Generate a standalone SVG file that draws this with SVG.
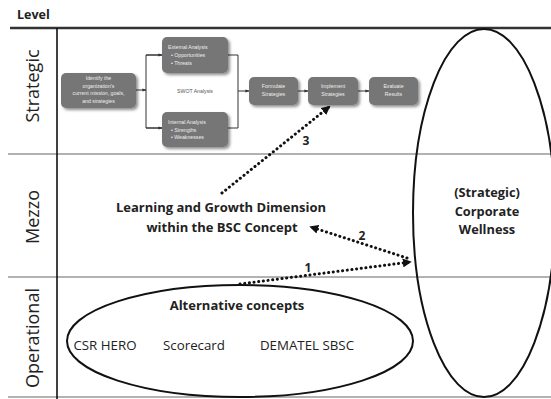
<svg xmlns="http://www.w3.org/2000/svg" width="551" height="399" viewBox="0 0 551 399">
<defs>
<style>
.lbl{font-family:"Open Sans","Liberation Sans",sans-serif;fill:#222}
.row{font-size:18px}
.b{font-weight:bold}
.box{fill:#767676;filter:url(#sh)}
.bt{font-family:"Liberation Sans",sans-serif;font-size:5.2px;fill:#eeeeee;text-anchor:middle}
.bl{font-family:"Liberation Sans",sans-serif;font-size:5.2px;fill:#eeeeee}
.fl{fill:none;stroke:#333;stroke-width:1}
.grid{stroke:#666;stroke-width:1.2}
.dot{fill:none;stroke:#111;stroke-width:3;stroke-dasharray:0.1 4.6;stroke-linecap:round}
</style>
<filter id="sh" x="-20%" y="-20%" width="150%" height="160%">
<feGaussianBlur in="SourceAlpha" stdDeviation="1.5"/>
<feOffset dx="1.5" dy="2" result="o"/>
<feComponentTransfer><feFuncA type="linear" slope="0.45"/></feComponentTransfer>
<feMerge><feMergeNode/><feMergeNode in="SourceGraphic"/></feMerge>
</filter>
<marker id="ah" viewBox="0 0 10 10" refX="8" refY="5" markerWidth="9" markerHeight="9" markerUnits="userSpaceOnUse" orient="auto">
<path d="M0,0 L10,5 L0,10 z" fill="#111"/>
</marker>
<marker id="sa" viewBox="0 0 10 10" refX="9" refY="5" markerWidth="4" markerHeight="4" markerUnits="userSpaceOnUse" orient="auto">
<path d="M0,1 L10,5 L0,9 z" fill="#333"/>
</marker>
</defs>
<rect width="551" height="399" fill="#fff"/>

<g id="grid">
<text class="lbl b" x="17" y="19" font-size="12.5">Level</text>
<line x1="10" y1="28" x2="551" y2="28" stroke="#333" stroke-width="2.5"/>
<line class="grid" x1="8" y1="154" x2="551" y2="154"/>
<line class="grid" x1="8" y1="277" x2="551" y2="277"/>
<line class="grid" x1="8" y1="397" x2="551" y2="397"/>
<line x1="57" y1="28" x2="57" y2="399" stroke="#111" stroke-width="1.6"/>
<text class="lbl row" transform="translate(39,86) rotate(-90)" text-anchor="middle">Strategic</text>
<text class="lbl row" transform="translate(39,217) rotate(-90)" text-anchor="middle">Mezzo</text>
<text class="lbl row" transform="translate(39,338) rotate(-90)" text-anchor="middle">Operational</text>
</g>

<g id="flow-connectors">
<line class="fl" x1="136" y1="90" x2="146" y2="90" marker-end="url(#sa)"/>
<polyline class="fl" points="162,55 146,55 146,128 162,128"/>
<line class="fl" x1="146" y1="55" x2="162" y2="55" marker-end="url(#sa)"/>
<line class="fl" x1="146" y1="128" x2="162" y2="128" marker-end="url(#sa)"/>
<polyline class="fl" points="228,55 238,55 238,128 228,128"/>
<line class="fl" x1="238" y1="91" x2="249" y2="91" marker-end="url(#sa)"/>
<line class="fl" x1="298" y1="91" x2="308" y2="91" marker-end="url(#sa)"/>
<line class="fl" x1="358" y1="91" x2="369" y2="91" marker-end="url(#sa)"/>
</g>

<g id="identify">
<rect class="box" x="61" y="73" width="75" height="35" rx="5"/>
<text class="bt" x="98.5" y="80">Identify the</text>
<text class="bt" x="98.5" y="87.5">organization's</text>
<text class="bt" x="98.5" y="95">current mission, goals,</text>
<text class="bt" x="98.5" y="102.5">and strategies</text>
</g>
<g id="external">
<rect class="box" x="162" y="37" width="66" height="36" rx="5"/>
<text class="bl" x="168" y="49">External Analysis</text>
<text class="bl" x="171" y="57">• Opportunities</text>
<text class="bl" x="171" y="64.5">• Threats</text>
</g>
<g id="swot">
<text x="195" y="93" font-family="Liberation Sans,sans-serif" font-size="5.2" fill="#555" text-anchor="middle">SWOT Analysis</text>
</g>
<g id="internal">
<rect class="box" x="162" y="112" width="66" height="35" rx="5"/>
<text class="bl" x="168" y="124">Internal Analysis</text>
<text class="bl" x="171" y="131.5">• Strengths</text>
<text class="bl" x="171" y="139">• Weaknesses</text>
</g>
<g id="formulate">
<rect class="box" x="249" y="77" width="49" height="28" rx="5"/>
<text class="bt" x="273.5" y="88">Formulate</text>
<text class="bt" x="273.5" y="95.5">Strategies</text>
</g>
<g id="implement">
<rect class="box" x="308" y="77" width="50" height="28" rx="5"/>
<text class="bt" x="333" y="88">Implement</text>
<text class="bt" x="333" y="95.5">Strategies</text>
</g>
<g id="evaluate">
<rect class="box" x="369" y="77" width="49" height="28" rx="5"/>
<text class="bt" x="393.5" y="88">Evaluate</text>
<text class="bt" x="393.5" y="95.5">Results</text>
</g>

<g id="wellness">
<ellipse cx="484" cy="213" rx="71" ry="184" fill="none" stroke="#111" stroke-width="2"/>
<text class="lbl b" font-size="12.8" text-anchor="middle"><tspan x="487" y="197">(Strategic)</tspan><tspan x="487" y="216">Corporate</tspan><tspan x="487" y="234">Wellness</tspan></text>
</g>

<g id="lg-dimension">
<text class="lbl b" font-size="13" text-anchor="middle"><tspan x="221" y="212">Learning and Growth Dimension</tspan><tspan x="222" y="232">within the BSC Concept</tspan></text>
</g>

<g id="alternatives">
<ellipse cx="240" cy="341" rx="173" ry="56" fill="none" stroke="#111" stroke-width="2"/>
<text class="lbl b" font-size="13" x="237" y="310" text-anchor="middle">Alternative concepts</text>
<text class="lbl" font-size="13.3" x="105" y="350" text-anchor="middle">CSR HERO</text>
<text class="lbl" font-size="13.3" x="194" y="350" text-anchor="middle">Scorecard</text>
<text class="lbl" font-size="13.3" x="307" y="350" text-anchor="middle">DEMATEL SBSC</text>
</g>

<g id="connectors">
<line class="dot" x1="222" y1="193" x2="329" y2="107" marker-end="url(#ah)"/>
<line class="dot" x1="407" y1="258" x2="311" y2="227" marker-end="url(#ah)"/>
<line class="dot" x1="240" y1="284" x2="410" y2="262" marker-end="url(#ah)"/>
<text class="lbl b" font-size="12" x="306" y="145" text-anchor="middle">3</text>
<text class="lbl b" font-size="12" x="362" y="240" text-anchor="middle">2</text>
<text class="lbl b" font-size="12" x="308" y="272" text-anchor="middle">1</text>
</g>
</svg>
